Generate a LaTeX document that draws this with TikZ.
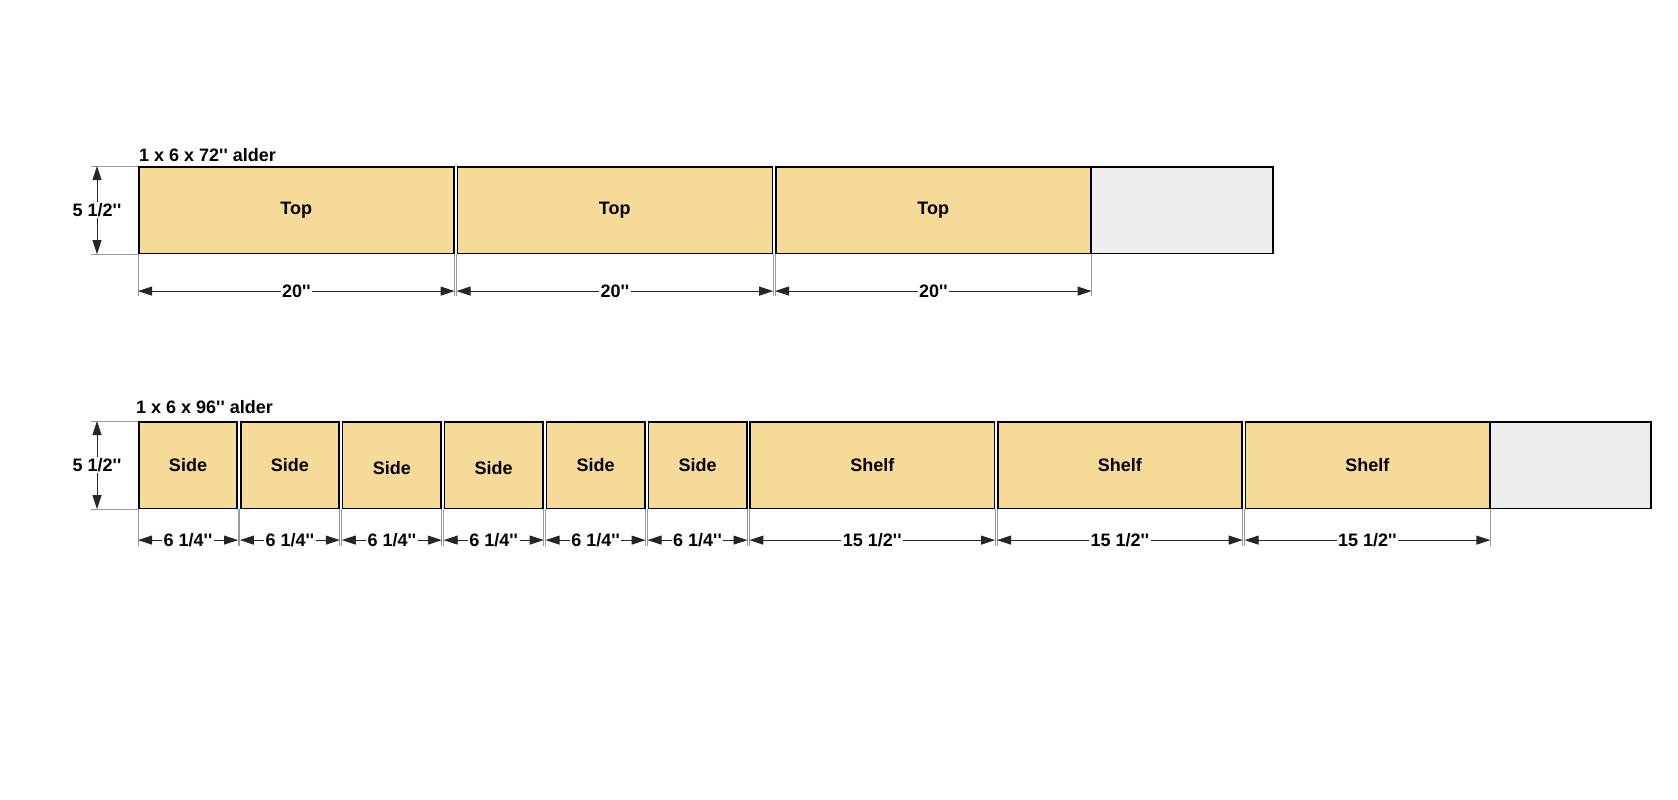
\documentclass[tikz,border=0pt]{standalone}
\usepackage{fontspec}
\setmainfont{Liberation Sans}[Ligatures=TeXOff]
\usepackage{xcolor}
\usetikzlibrary{arrows.meta,calc}

\definecolor{wood}{HTML}{F5DA98}
\definecolor{offcut}{HTML}{EEEEEE}
\definecolor{extgrey}{HTML}{9A9A9A}

\tikzset{
  piece/.style={rectangle, draw=black, line width=1.6pt, fill=wood,
    anchor=north west, inner sep=0pt, minimum height=86.5pt,
    font=\bfseries\fontsize{18}{20}\selectfont},
  waste/.style={piece, fill=offcut},
  extline/.style={draw=extgrey, line width=0.9pt},
  dimline/.style={draw=black!85, line width=0.9pt,
    {Triangle[length=14pt,width=9pt]}-{Triangle[length=14pt,width=9pt]}},
  dimtext/.style={fill=white, inner sep=1.5pt,
    font=\bfseries\fontsize{18}{20}\selectfont},
  boardname/.style={anchor=base west, inner sep=0pt,
    font=\bfseries\fontsize{18}{20}\selectfont}
}

\begin{document}
\begin{tikzpicture}[x=1pt,y=-1pt]

\useasboundingbox (0,0) rectangle (1678,800);

% 1 x 6 x 72 board
\foreach \i in {0,1,2}
  \node[piece, minimum width=315pt] (top\i) at ({138+318.5*\i},166) {Top};
\node[waste, minimum width=182pt] (topend) at (1090,166) {};
\node[boardname] (toplabel) at ($(top0.north west)+(1,-5)$) {1 x 6 x 72'' alder};

\foreach \i in {0,1,2} {
  \draw[extline] (top\i.south west) -- ++(0,42);
  \draw[extline] (top\i.south east) -- ++(0,42);
  \draw[dimline] ($(top\i.south west)+(0,37)$) -- node[dimtext] {20''} ($(top\i.south east)+(0,37)$);
}

\draw[extline] (top0.north west) -- ++(-47,0) coordinate (tophi);
\draw[extline] (top0.south west) -- ++(-47,0) coordinate (toplo);
\draw[dimline] ($(tophi)+(6,0)$) -- node[dimtext] {5 1/2''} ($(toplo)+(6,0)$);

% 1 x 6 x 96 board
\foreach \i/\dy in {0/0,1/0,2/3,3/3,4/0,5/0}
  \node[piece, minimum width=98.4pt] (side\i) at ({138+101.9*\i},421) {\raisebox{-\dy pt}[\height][\depth]{Side}};
\foreach \i in {0,1,2}
  \node[piece, minimum width=244.1pt] (shelf\i) at ({749.4+247.6*\i},421) {Shelf};
\node[waste, minimum width=161pt] (shelfend) at (1489,421) {};
\node[boardname] (shelflabel) at ($(side0.north west)+(-2,-8)$) {1 x 6 x 96'' alder};

\foreach \i in {0,...,5} {
  \draw[extline] (side\i.south west) -- ++(0,37);
  \draw[extline] (side\i.south east) -- ++(0,37);
  \draw[dimline] ($(side\i.south west)+(0,31)$) -- node[dimtext] {6 1/4''} ($(side\i.south east)+(0,31)$);
}
\foreach \i in {0,1,2} {
  \draw[extline] (shelf\i.south west) -- ++(0,37);
  \draw[extline] (shelf\i.south east) -- ++(0,37);
  \draw[dimline] ($(shelf\i.south west)+(0,31)$) -- node[dimtext] {15 1/2''} ($(shelf\i.south east)+(0,31)$);
}

\draw[extline] (side0.north west) -- ++(-47,0) coordinate (sidehi);
\draw[extline] (side0.south west) -- ++(-47,0) coordinate (sidelo);
\draw[dimline] ($(sidehi)+(6,0)$) -- node[dimtext] {5 1/2''} ($(sidelo)+(6,0)$);

\end{tikzpicture}
\end{document}
